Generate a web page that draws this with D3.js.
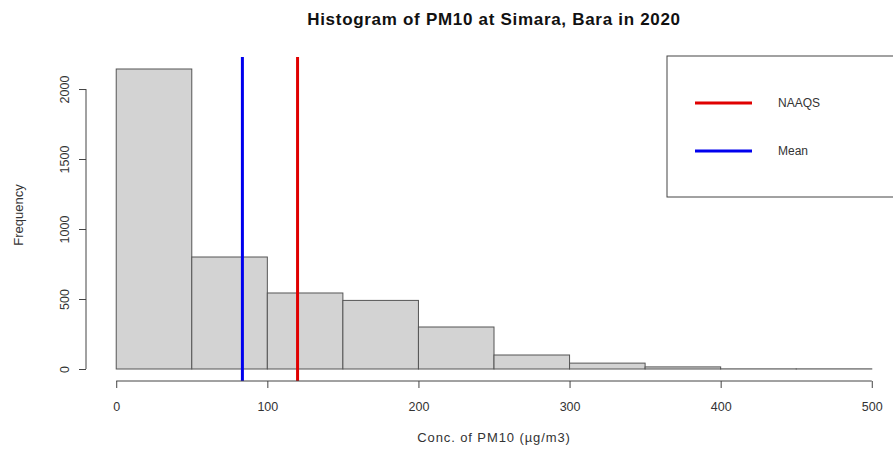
<!DOCTYPE html>
<html lang="en">
<head>
<meta charset="UTF-8">
<title>Histogram of PM10 at Simara, Bara in 2020</title>
<script src="https://d3js.org/d3.v7.min.js"></script>
<style>
    body { margin: 0; background: #fff; }
    text { font-family: "Liberation Sans", Arial, sans-serif; fill: #333; }
    .bar { fill: #d3d3d3; stroke: #555; stroke-width: 1; }
    .axis path, .axis line { stroke: #444; }
</style>
</head>
<body>
<svg id="chart" width="893" height="461"></svg>
<script>
// histogram bins (µg/m3) and counts
const binEdges = [0, 50, 100, 150, 200, 250, 300, 350, 400, 450, 500];
const counts = [2143, 800, 543, 490, 300, 100, 42, 15, 1, 1];
const xTicks = [0, 100, 200, 300, 400, 500];
const yTicks = [0, 500, 1000, 1500, 2000];
const refLines = [
    { name: 'NAAQS', value: 120, color: '#e00000' },
    { name: 'Mean', value: 83.5, color: '#0000ee' }
];

const svg = d3.select('#chart');

// plot region like R: limits padded by 4%
const x = d3.scaleLinear().domain([-20, 520]).range([86, 902]);
const yMax = d3.max(counts);
const y = d3.scaleLinear().domain([-yMax * 0.04, yMax * 1.04]).range([381, 57]);

const bins = counts.map((c, i) => ({ x0: binEdges[i], x1: binEdges[i + 1], n: c }));

svg.selectAll('rect.bar')
    .data(bins)
    .enter().append('rect')
    .attr('class', 'bar')
    .attr('x', d => x(d.x0))
    .attr('y', d => y(d.n))
    .attr('width', d => x(d.x1) - x(d.x0))
    .attr('height', d => y(0) - y(d.n));

// vertical reference lines (abline)
svg.selectAll('line.ref')
    .data(refLines)
    .enter().append('line')
    .attr('class', 'ref')
    .attr('x1', d => x(d.value))
    .attr('x2', d => x(d.value))
    .attr('y1', y.range()[1])
    .attr('y2', y.range()[0])
    .attr('stroke', d => d.color)
    .attr('stroke-width', 3);

// x axis
const xAxis = svg.append('g')
    .attr('class', 'axis')
    .attr('transform', 'translate(0,381)')
    .call(d3.axisBottom(x).tickValues(xTicks).tickFormat(d3.format('d')).tickSize(7).tickPadding(14));
xAxis.select('.domain').attr('d', `M${x(xTicks[0])},0H${x(xTicks[xTicks.length - 1])}`);
xAxis.selectAll('text').style('font-size', '12.5px');

// y axis
const yAxis = svg.append('g')
    .attr('class', 'axis')
    .attr('transform', 'translate(86,0)')
    .call(d3.axisLeft(y).tickValues(yTicks).tickFormat(d3.format('d')).tickSize(7));
yAxis.select('.domain').attr('d', `M0,${y(yTicks[0])}V${y(yTicks[yTicks.length - 1])}`);
yAxis.selectAll('.tick text')
    .style('font-size', '12.5px')
    .attr('transform', 'rotate(-90)')
    .attr('x', 0)
    .attr('y', -17)
    .attr('dy', 0)
    .attr('text-anchor', 'middle');

// titles
svg.append('text')
    .attr('x', 494).attr('y', 25)
    .attr('text-anchor', 'middle')
    .style('font-size', '17px').style('font-weight', 'bold')
    .style('letter-spacing', '0.7px')
    .style('fill', '#111')
    .text('Histogram of PM10 at Simara, Bara in 2020');

svg.append('text')
    .attr('x', 494).attr('y', 442)
    .attr('text-anchor', 'middle')
    .style('font-size', '13px')
    .style('letter-spacing', '0.9px')
    .text('Conc. of PM10 (µg/m3)');

svg.append('text')
    .attr('transform', 'translate(23,215) rotate(-90)')
    .attr('text-anchor', 'middle')
    .style('font-size', '13px')
    .text('Frequency');

// legend
const legend = svg.append('g');
legend.append('rect')
    .attr('x', 667).attr('y', 56)
    .attr('width', 240).attr('height', 141)
    .attr('fill', '#fff').attr('stroke', '#444');
legend.selectAll('g.item')
    .data(refLines)
    .enter().append('g')
    .attr('class', 'item')
    .each(function (d, i) {
        const g = d3.select(this);
        const ly = 103 + i * 48;
        g.append('line')
            .attr('x1', 695).attr('x2', 752)
            .attr('y1', ly).attr('y2', ly)
            .attr('stroke', d.color).attr('stroke-width', 3);
        g.append('text')
            .attr('x', 778).attr('y', ly + 4)
            .style('font-size', '12px')
            .text(d.name);
    });
</script>
</body>
</html>
